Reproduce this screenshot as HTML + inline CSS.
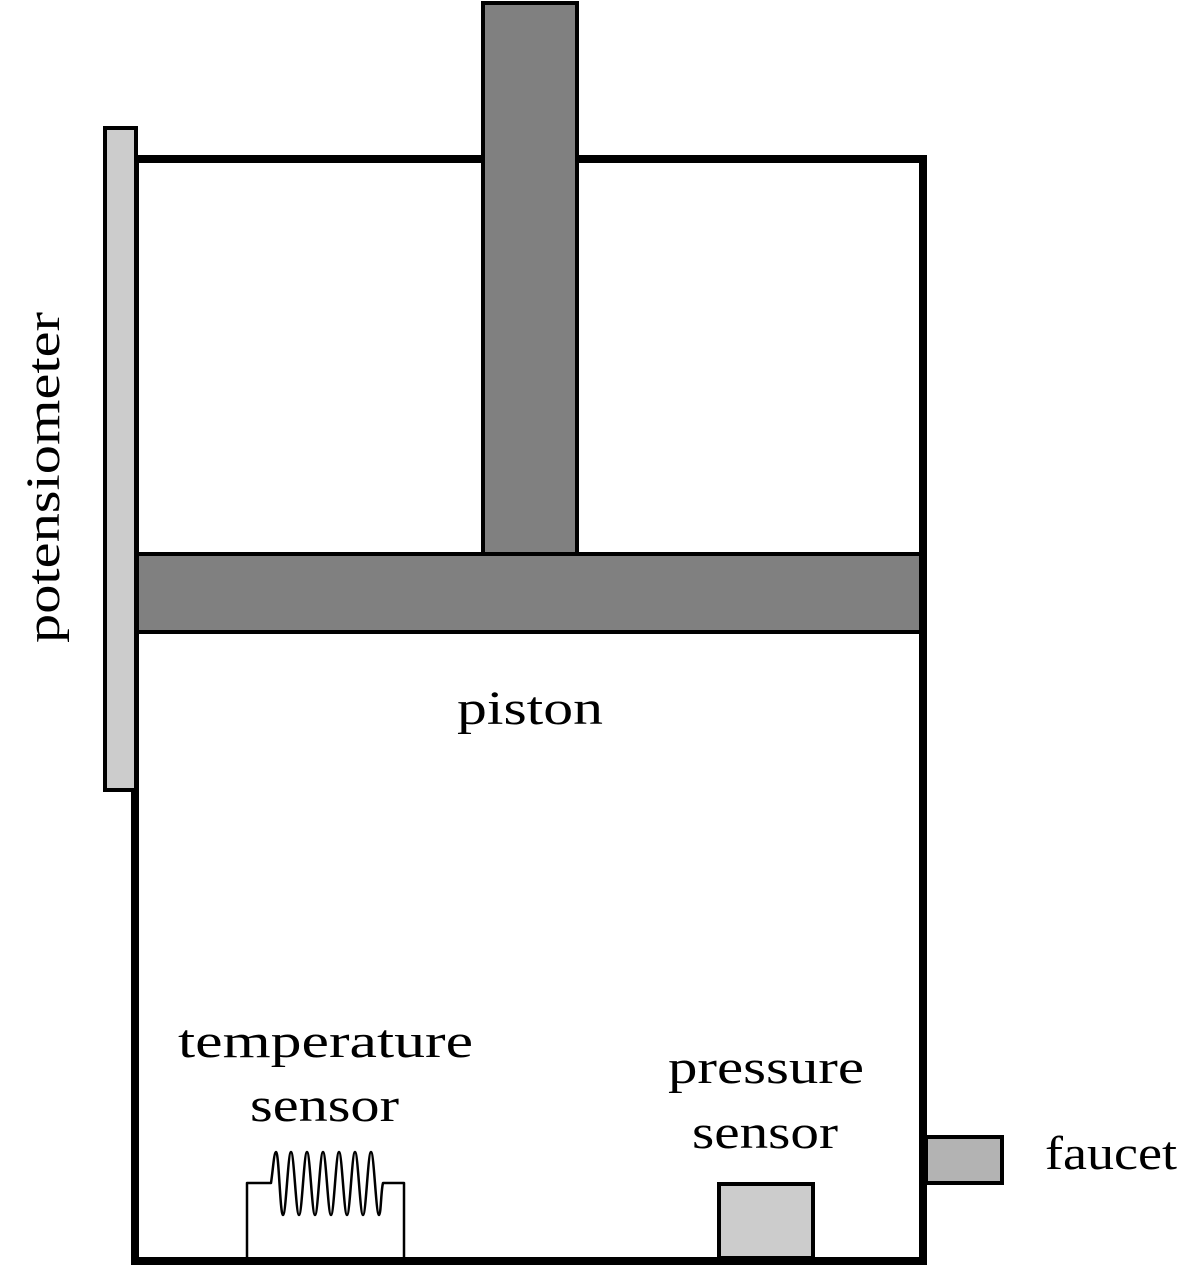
<!DOCTYPE html>
<html><head><meta charset="utf-8"><style>
html,body{margin:0;padding:0;background:#fff;}
svg text{font-family:"Liberation Serif","DejaVu Serif",serif;font-size:48px;fill:#000;}
</style></head><body>
<svg width="1199" height="1268" viewBox="0 0 1199 1268">
<g fill="none" stroke="#000" stroke-width="8">
<polyline points="482,159 135,159 135,1261 923,1261 923,159 576,159"/>
</g>
<rect x="483" y="3" width="94" height="551" fill="#808080" stroke="#000" stroke-width="4"/>
<rect x="137" y="554" width="784" height="78" fill="#808080" stroke="#000" stroke-width="4"/>
<rect x="105" y="128" width="31" height="662" fill="#cccccc" stroke="#000" stroke-width="4"/>
<rect x="926" y="1137" width="76" height="46" fill="#b3b3b3" stroke="#000" stroke-width="4"/>
<rect x="719" y="1184" width="94" height="74" fill="#cccccc" stroke="#000" stroke-width="4"/>
<path fill="none" stroke="#000" stroke-width="2.5" stroke-linejoin="round"
d="M247,1257 V1183 H271 C273,1170 274,1152 276,1152 C279,1152 280,1215 283,1215 C286,1215 288,1152 291,1152 C294,1152 296,1215 299,1215 C302,1215 304,1152 307,1152 C310,1152 312,1215 315,1215 C318,1215 320,1152 323,1152 C326,1152 328,1215 331,1215 C334,1215 336,1152 339,1152 C342,1152 344,1215 347,1215 C350,1215 352,1152 355,1152 C358,1152 360,1215 363,1215 C366,1215 368,1152 371,1152 C374,1152 376,1215 379,1215 C381,1215 381,1190 383,1183 H404 V1257"/>
<text x="457" y="724" textLength="146" lengthAdjust="spacingAndGlyphs">piston</text>
<text x="178" y="1057" textLength="295" lengthAdjust="spacingAndGlyphs">temperature</text>
<text x="250" y="1121" textLength="149" lengthAdjust="spacingAndGlyphs">sensor</text>
<text x="668" y="1083" textLength="196" lengthAdjust="spacingAndGlyphs">pressure</text>
<text x="692" y="1148" textLength="146" lengthAdjust="spacingAndGlyphs">sensor</text>
<text x="1045" y="1169" textLength="132" lengthAdjust="spacingAndGlyphs">faucet</text>
<text transform="translate(59,643) rotate(-90)" textLength="331" lengthAdjust="spacingAndGlyphs">potensiometer</text>
</svg>
</body></html>
